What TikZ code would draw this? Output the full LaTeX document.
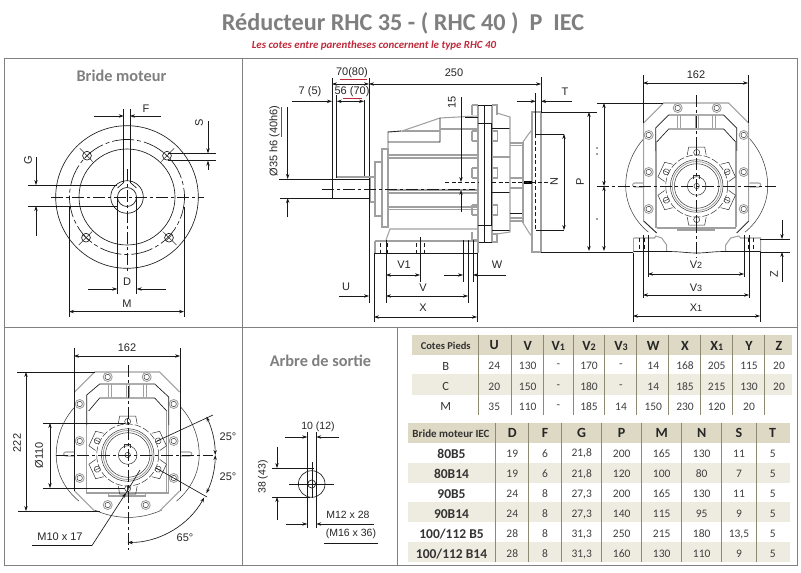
\documentclass[tikz,border=0pt]{standalone}
\usepackage{fontspec}
\setmainfont{Carlito}
\newfontfamily\lab{Liberation Sans}
\usetikzlibrary{arrows.meta,calc}
\definecolor{framec}{HTML}{808080}
\definecolor{titlec}{HTML}{7F7F7F}
\definecolor{redc}{HTML}{C0283A}
\definecolor{bandA}{HTML}{DDD9C4}
\definecolor{bandB}{HTML}{EEECE1}
\definecolor{sepc}{HTML}{8C8A70}
\definecolor{bodyc}{HTML}{A0A0A0}
\tikzset{
  frameline/.style={framec,line width=1pt},
  ln/.style={black!90,line width=.65pt},
  thn/.style={black!80,line width=.5pt},
  body/.style={bodyc,line width=1.05pt},
  dimn/.style={black!90,line width=.65pt,-{Stealth[length=5pt,width=3.4pt]}},
  dimb/.style={black!90,line width=.65pt,{Stealth[length=5pt,width=3.4pt]}-{Stealth[length=5pt,width=3.4pt]}},
  cl/.style={black!90,line width=.65pt,dash pattern=on 12pt off 3pt on 3pt off 3pt},
  dsh/.style={black!90,line width=.65pt,dash pattern=on 4pt off 2.5pt},
  lbl/.style={font=\lab\fontsize{11}{12}\selectfont,inner sep=0pt,text=black!85},
  heading/.style={font=\bfseries\fontsize{16.3}{18}\selectfont,text=titlec,inner sep=0pt},
  ceh/.style={font=\bfseries\fontsize{14}{15}\selectfont,text=black!85,inner sep=0pt},
  cen/.style={font=\fontsize{11.5}{13}\selectfont,text=black!75,inner sep=0pt},
  ceb/.style={font=\bfseries\fontsize{13.5}{15}\selectfont,text=black!80,inner sep=0pt},
  ces/.style={font=\bfseries\fontsize{10.5}{12}\selectfont,text=black!80,inner sep=0pt},
}
\newcommand{\smalld}[1]{{\fontsize{9}{10}\selectfont #1}}
\newcommand{\bolt}[2]{\draw[body,line width=.9pt] (#1,#2) circle[radius=4.5pt]; \draw[thn] (#1,#2) circle[radius=2.7pt];}
\newcommand{\lobe}[1]{\begin{scope}[rotate=#1]
  \draw[thn] (31,-9.5)--(39,-8)--(39,8)--(31,9.5);
  \draw[thn,fill=white] (33.6,0) circle[radius=3pt];
  \draw[thn] (30.6,0)--(36.6,0);
\end{scope}}
\newcommand{\core}{%
  \draw[thn,dash pattern=on 7pt off 2pt] (0,0) circle[radius=31pt];
  \draw[thn] (0,0) circle[radius=26.3pt];
  \draw[body,line width=.8pt] (0,0) circle[radius=24.5pt];
  \draw[thn] (0,0) circle[radius=22.3pt];
  \draw[thn] (0,0) circle[radius=9.3pt];
  \draw[thn] (0,0) circle[radius=2.7pt];
  \draw[thn] (-3,-7)--(-3,-10.5)--(3,-10.5)--(3,-7);
  \lobe{-90}\lobe{90}\lobe{-155}\lobe{-25}\lobe{155}\lobe{25}
  \draw[body] (-19,-71)--(-19,-58) (-16,-71)--(-16,-58) (-1,-71)--(-1,-58) (2,-71)--(2,-58) (16,-71)--(16,-58) (19,-71)--(19,-58);
  \draw[body] (-53,-3)--(-62,-3) arc[start angle=270,end angle=90,radius=2pt]--(-53,1);
  \draw[body] (53,-3)--(62,-3) arc[start angle=-90,end angle=90,radius=2pt]--(53,1);
}
\begin{document}
\begin{tikzpicture}[yscale=-1,x=1pt,y=1pt]
\useasboundingbox (0,0) rectangle (801,573);
\fill[white] (0,0) rectangle (801,573);

% titles
\node[inner sep=0pt,font=\bfseries\fontsize{24.2}{26}\selectfont,text=titlec] (title) at (403,23) {Réducteur RHC 35 - ( RHC 40 )\ \ P\ \ IEC};
\node[inner sep=0pt,font=\bfseries\itshape\fontsize{10.9}{12}\selectfont,text=redc] (sub) at (374,45.5) {Les cotes entre parentheses concernent le type RHC 40};
\node[heading] (h1) at (121.5,76) {Bride moteur};
\node[heading] (h2) at (320.5,361) {Arbre de sortie};

% frames
\draw[frameline] (4,58) rectangle (797,565);
\draw[frameline] (242,58)--(242,565) (4,327)--(797,327) (397,327)--(397,565);

% ---------- Bride moteur ----------
\begin{scope}[shift={(127,197)}]
  \draw[ln] (0,0) circle[radius=71.3pt];
  \draw[ln] (0,0) circle[radius=48pt];
  \draw[ln,dash pattern=on 22pt off 3pt on 4pt off 3pt] (0,0) circle[radius=57.5pt];
  \draw[ln] (0,0) circle[radius=16.3pt];
  \draw[ln] (0,0) circle[radius=9.5pt];
  \draw[ln] (-3.3,-88)--(-3.3,-14.5) (3.3,-88)--(3.3,-14.5);
  \draw[ln] (-3.3,-14.5)--(-9.5,-9) (3.3,-14.5)--(9.5,-9);
  \foreach \ax/\ay in {-40/-41.3, 40/-41.3, -41/40.7, 42/40.7}{
    \draw[ln] (\ax,\ay) circle[radius=4.4pt];
    \draw[thn] ($(0,0)!0.85!(\ax,\ay)$)--($(0,0)!1.18!(\ax,\ay)$);
    \draw[thn] ($(\ax,\ay)!4.4pt!90:(0,0)$)--($(\ax,\ay)!4.4pt!-90:(0,0)$);
  }
  \draw[cl] (-76,0)--(77,0);
  \draw[cl] (0,-28)--(0,77);
\end{scope}
\draw[dimn] (94,116)--(123.7,116); \draw[dimn] (160.7,116)--(130,116);
\node[lbl] (lF) at (146,109) {F};
\draw[ln] (168,153.3)--(216,153.3) (168,160.7)--(216,160.7);
\draw[dimn] (208,121)--(208,153.3); \draw[dimn] (208,170)--(208,160.7);
\node[lbl,rotate=90] (lS) at (199,123) {S};
\draw[ln] (28,185)--(117,185) (28,206)--(118,206);
\draw[dimn] (36,157)--(36,185); \draw[dimn] (36,236)--(36,206);
\node[lbl,rotate=90] (lG) at (28,160) {G};
\draw[ln] (117.3,197)--(117.3,294) (136.7,197)--(136.7,294);
\draw[dimn] (88,289)--(117.3,289); \draw[dimn] (166,289)--(136.7,289);
\node[lbl] (lD) at (127,282) {D};
\draw[ln] (69,207)--(69,317) (184,207)--(184,317);
\draw[dimb] (69,311.6)--(184,311.6);
\node[lbl] (lM) at (127,304) {M};

% ---------- Side view ----------
% body
\draw[body] (370,177) rectangle (375,202);
\draw[body] (375,162) rectangle (382,216);
\draw[body] (382,149) rectangle (388,227);
\draw[body] (388,227)--(388,132)--(402,131)--(440,118)--(477,116);
\draw[ln] (388,132)--(401,131) (388,142)--(440,142)--(440,118);
\draw[body] (402,131)--(440,131) (440,129)--(477,129);
\draw[body] (388,155)--(477,155) (388,158)--(477,158);
\draw[body] (388,190)--(477,190) (388,193)--(477,193);
\draw[body] (388,207)--(477,207) (388,209.5)--(477,209.5);
\draw[body] (386,240)--(390,229)--(477,229);
\draw[body] (478,105)--(478,242) (492,105)--(492,242);
\draw[ln] (465,117)--(478,117) (478,105)--(492,105) (478,123)--(492,123) (478,225)--(492,225) (478,242)--(492,242);
\draw[ln] (484.5,105)--(484.5,242) (491,123)--(491,225);
\foreach \by in {136,173,210}{
  \draw[body] (472,\by-5)--(472,\by+5) (472,\by-5)--(478,\by-5) (472,\by+5)--(478,\by+5);
  \draw[body] (492,\by-5)--(497.5,\by-5)--(497.5,\by+5)--(492,\by+5);
}
\draw[body] (472,105)--(478,105) (472,105)--(472,115) (492,105)--(497,105)--(497,115);
\draw[body] (472,232)--(472,240)--(478,240) (492,234)--(497,234)--(497,242)--(492,242);
\draw[ln] (492,128)--(510,128) (492,192)--(510,192) (492,230)--(510,230);
\draw[body] (497,113)--(510,117)--(510,232)--(497,234);
\draw[body] (492,157)--(510,157);
\draw[body] (510,143)--(523,143) (510,145.5)--(523,145.5) (510,178)--(523,178) (510,188)--(523,188) (510,218)--(523,218) (510,221)--(523,221);
\draw[ln] (510,213)--(523,213);
\draw[body] (523,142)--(523,223);
\draw[body] (523,142) .. controls (527,136) and (530,132) .. (532,130);
\draw[body] (523,223) .. controls (527,229) and (530,235) .. (532,236);
\draw[body] (532,112) rectangle (541,252);
\fill[black] (524,181) rectangle (532,183.5);
\draw[dsh] (535.7,134)--(535.7,230);
\draw[ln] (535.7,134)--(564,134) (535.7,230)--(564,230);
\draw[ln] (541,112)--(597,112) (541,252)--(633,252);
% foot
\draw[body] (375,241)--(478,241)--(478,253) (375,241)--(375,253);
\draw[ln] (374,253)--(478,253);
\draw[dsh] (380,243)--(380,253) (387,243)--(387,253) (416,243)--(416,253) (424,243)--(424,253) (463,243)--(463,253) (473,243)--(473,253);
% shaft
\draw[ln] (279,179)--(370,179) (280,198)--(370,198);
\draw[body] (336.7,177)--(364,177);
\draw[cl] (322,189)--(475,189);
\draw[ln] (332,78)--(332,198) (336.7,95)--(336.7,178) (364,100)--(364,178);
\draw[ln] (369,78)--(369,303);
\draw[body] (364,177)--(370,177);
\draw[ln] (386,240)--(386,303) (374,253)--(374,322) (477,253)--(477,322) (468,240)--(468,303) (463,240)--(463,282) (473,240)--(473,282) (420,237)--(420,282) (541,77)--(541,112) (535.7,93)--(535.7,134);
% dims
\draw[dimb] (332,84)--(369,84);
\node[lbl] (l70) at (352,72.5) {70(80)};
\draw[redc,line width=.7pt] (340,79.3)--(367,79.3);
\draw[dimb] (369,84)--(541,84);
\node[lbl] (l250) at (454,73) {250};
\draw[dimn] (292,101.3)--(332,101.3);
\node[lbl] (l7) at (310,92) {7 (5)};
\draw[dimb] (336.7,101.3)--(364,101.3);
\node[lbl] (l56) at (352,92) {56 (70)};
\draw[redc,line width=.7pt] (343,98.8)--(362,98.8);
\draw[dimn] (287.7,107)--(287.7,179); \draw[dimn] (287.7,217)--(287.7,198);
\node[lbl,rotate=90] (l35) at (274.5,141) {Ø35 h6 (40h6)};
\draw[redc,line width=.7pt] (281,107)--(281,137);
\draw[dimn] (461,97)--(461,182); \draw[dimn] (461,212)--(461,190);
\draw[dsh] (445,182)--(478,182) (492,182)--(555,182);
\node[lbl,rotate=90] (l15) at (452,102) {15};
\node[lbl,rotate=90,fill=white,inner sep=1pt] (lN) at (554,182) {N};
\draw[dimb] (564,134)--(564,230);
\draw[dimn] (517,101.3)--(535.7,101.3); \draw[dimn] (572,101.3)--(541,101.3) ;
\node[lbl,fill=white,inner sep=1pt] (lT) at (565,92) {T};
\draw[dimb] (386,275)--(420,275);
\node[lbl] (lV1) at (404,265) {V1};
\draw[dimb] (386,296)--(468,296);
\node[lbl] (lV) at (423,288) {V};
\draw[dimn] (339,296)--(369,296);
\node[lbl] (lU) at (346,287) {U};
\draw[dimb] (374,317)--(477,317);
\node[lbl] (lX) at (423,308) {X};
\draw[dimn] (444,275)--(463,275); \draw[dimn] (506,275)--(473,275);
\node[lbl] (lW) at (497,265) {W};

% ---------- Front view ----------
\begin{scope}[shift={(696.7,186)}]
  \draw[thn] (-71,0) arc[start angle=180,end angle=222,radius=71pt];
  \draw[thn] (-71,0) arc[start angle=180,end angle=133,x radius=71pt,y radius=63pt];
  \draw[thn] (71,0) arc[start angle=0,end angle=-42,radius=71pt];
  \draw[thn] (71,0) arc[start angle=0,end angle=47,x radius=71pt,y radius=63pt];
  \draw[body] (-40,47)--(-53,35)--(-53,-63)--(-33,-83)--(32,-83)--(52,-63)--(52,35)--(40,47);
  \draw[ln] (-53,35)--(-40,47) (52,35)--(40,47);
  \draw[ln] (-41,-35)--(-41,-58)--(-28,-71)--(27,-71)--(40,-58)--(40,-35);
  \draw[body] (-41,-35)--(-41,42) (40,-35)--(40,41);
  \draw[body] (-40,42)--(-40,-44) (39,-44)--(39,42)--(-40,42);
  \draw[ln] (-40,-44)--(-28,-57)--(27,-57)--(39,-44);
  \draw[body] (-19,42)--(-19,44)--(18,44)--(18,42);
  \foreach \a/\b in {-48/-51,-48/-14,-48/23,47/-51,47/-14,47/23,-19/-78,20/-78}{\bolt{\a}{\b}}
  \core
  \draw[body] (-63,52)--(-42,52)--(-41,50)--(-35,52)--(-30,59)--(-30,65.5);
  \draw[body] (-63,52)--(-63,66);
  \draw[body] (29,65.5)--(29,59)--(34,52)--(42,50)--(44,52)--(64,52)--(64,66);
  \draw[ln] (-63,65.5)--(-30,65.5) .. controls (-15,65.5) and (-10,67) .. (0,67) .. controls (10,67) and (15,65.5) .. (29,65.5)--(64,65.5);
  \draw[dsh] (-57,52)--(-57,65) (-52,52)--(-52,65) (-48,52)--(-48,65) (48,52)--(48,65) (52,52)--(52,65) (57,52)--(57,65);
\end{scope}
\draw[ln] (643,75)--(643,123) (748,75)--(748,123);
\draw[dimb] (643,83)--(748,83);
\node[lbl] (l162a) at (696,75) {162};
\draw[ln] (597,103)--(663,103);
\draw[cl] (597,186)--(776,186);
\draw[cl] (696.7,95)--(696.7,258);
\draw[dimb] (604,103)--(604,186); \draw[dimb] (604,186)--(604,251);
\draw[dimb] (589,112)--(589,251);
\node[lbl,rotate=90] (lP) at (580,182) {P};
\draw[body] (597,147)--(597,149) (597,153)--(597,155) (597,218)--(597,220);
\draw[ln] (643,235)--(643,298) (749,235)--(749,298) (648,235)--(648,277) (744,235)--(744,277) (633,253)--(633,322) (760,253)--(760,322) (760,239)--(790,239) (760,252)--(790,252);
\draw[dimb] (648,274)--(744,274);
\node[lbl] (lV2) at (696,265) {V\smalld{2}};
\draw[dimb] (643,295)--(749,295);
\node[lbl] (lV3) at (696,288) {V\smalld{3}};
\draw[dimb] (633,316)--(760,316);
\node[lbl] (lX1) at (696,308) {X\smalld{1}};
\draw[dimn] (782,220)--(782,239); \draw[dimn] (782,282)--(782,252);
\node[lbl,rotate=90] (lZ) at (774,274) {Z};

% ---------- Bottom-left view ----------
\begin{scope}[shift={(127.7,455)}]
  \draw[thn] (-71.5,0) arc[start angle=180,end angle=222,radius=71.5pt];
  \draw[thn] (-71.5,0) arc[start angle=180,end angle=133,x radius=71.5pt,y radius=63pt];
  \draw[thn] (71.5,0) arc[start angle=0,end angle=-42,radius=71.5pt];
  \draw[thn] (71.5,0) arc[start angle=0,end angle=47,x radius=71.5pt,y radius=63pt];
  \draw[thn] (-33,55) arc[start angle=118,end angle=62,x radius=71.5pt,y radius=63pt];
  \draw[body] (-33,56)--(-53,36) (-53,-63)--(-33,-83)--(32,-83)--(52,-63) (52,36)--(32,56)--cycle;
  \draw[body] (-41,-30)--(-41,38)--(41,38)--(41,-30);
  \draw[ln] (-41,-30)--(-41,-60)--(-28,-71)--(27,-71)--(41,-58)--(41,-30);
  \draw[ln] (-39,-44)--(-28,-57)--(27,-57)--(39,-44);
  \draw[body] (39,-44)--(39,38);
  \draw[body] (-19,38)--(-19,41)--(18,41)--(18,38);
  \foreach \a/\b in {-48/-51,-48/-14,-48/23,46/-51,46/-14,46/23,-20/-78,19/-78,-20/50,18/50}{\bolt{\a}{\b}}
  \core
\end{scope}
\draw[ln] (74,348)--(74,491) (180,348)--(180,491);
\draw[dimb] (74,356)--(180,356);
\node[lbl] (l162b) at (127,348) {162};
\draw[ln] (17,372)--(95,372) (18,511)--(100,511);
\draw[dimb] (26,372)--(26,511);
\node[lbl,rotate=90] (l222) at (17,443) {222};
\draw[ln] (43,423)--(125,423) (43,488)--(125,488);
\draw[dimb] (50,423)--(50,488);
\node[lbl,rotate=90] (l110) at (39,455) {Ø110};
\draw[cl] (56,455)--(213,455);
\draw[cl] (128,365)--(128,550);
\draw[ln] (157,441)--(213,415) (156,468)--(207,497);
\draw[dimb,shift={(127.7,455)}] (87.5,0) arc[start angle=0,end angle=-26,radius=87.5pt];
\draw[dimb,shift={(127.7,455)}] (87.5,0) arc[start angle=0,end angle=26,radius=87.5pt];
\draw[dimb,shift={(127.7,455)}] (0,87.5) arc[start angle=90,end angle=29,radius=87.5pt];
\node[lbl] (l25a) at (228,437) {25°};
\node[lbl] (l25b) at (228,477) {25°};
\node[lbl] (l65) at (185,538) {65°};
\node[lbl] (lM10) at (60,537) {M10 x 17};
\draw[ln,-{Stealth[length=5pt,width=3.4pt]}] (32,545.5)--(92,545.5)--(126,493);
\draw[ln] (126,493)--(140,470);

% ---------- Arbre de sortie ----------
\draw[ln] (311.7,484) circle[radius=13.3pt];
\draw[ln] (311.7,484) circle[radius=4pt];
\draw[ln] (289,484)--(334,484);
\draw[ln] (312,462)--(312,498);
\draw[ln] (307.3,432)--(307.3,528) (316.3,432)--(316.3,528);
\draw[dimn] (285,437)--(307.3,437); \draw[dimn] (339,437)--(316.3,437);
\node[lbl,font=\lab\fontsize{10.5}{12}\selectfont] (l10) at (318,427) {10 (12)};
\draw[dimn] (286,524)--(307.3,524); \draw[dimn] (374,524)--(316.3,524);
\node[lbl,font=\lab\fontsize{10.5}{12}\selectfont] (lM12) at (348,515) {M12 x 28};
\node[lbl,font=\lab\fontsize{10.5}{12}\selectfont] (lM16) at (351,534) {(M16 x 36)};
\draw[ln] (324,543)--(378,543);
\draw[ln] (272,468)--(314,468) (272,497)--(310,497);
\draw[dimn] (277,447)--(277,468); \draw[dimn] (277,520)--(277,497);
\node[lbl,rotate=90,font=\lab\fontsize{10.5}{12}\selectfont] (l38) at (263,477) {38 (43)};

% ---------- Table 1 ----------
\fill[bandA] (412,335) rectangle (792,355);
\fill[bandB] (412,374.3) rectangle (792,394.5);
\foreach \x in {478.3,511.7,543.3,573.3,604.3,636.7,668.3,700,732.3,764.3}{
  \draw[sepc,line width=.8pt] (\x,335)--(\x,415);
}
\node[ces] (c00) at (445.7,346) {Cotes Pieds};
\foreach \t [count=\i] in {U,V,V\fontsize{10}{11}\selectfont 1,V\fontsize{10}{11}\selectfont 2,V\fontsize{10}{11}\selectfont 3,W,X,X\fontsize{10}{11}\selectfont 1,Y,Z}{
  \pgfmathsetmacro{\cx}{405+{0,89.3,122.7,153.3,184,216,248.3,280,311.7,344,374}[\i]}
  \node[ceh] (c0\i) at (\cx,345.5) {\t};
}
\newcommand{\trow}[3]{%
  \node[font=\fontsize{12.5}{14}\selectfont,text=black!80,inner sep=0pt] (r#1n) at (445.7,#2) {#1};
  \foreach \t [count=\i] in {#3}{
    \pgfmathsetmacro{\cx}{405+{0,89.3,122.7,153.3,184,216,248.3,280,311.7,344,374}[\i]}
    \node[cen] (r#1c\i) at (\cx,#2) {\t};
  }}
\trow{B}{366}{24,130,-,170,-,14,168,205,115,20}
\trow{C}{386.5}{20,150,-,180,-,14,185,215,130,20}
\trow{M}{406.5}{35,110,-,185,14,150,230,120,20}

% ---------- Table 2 ----------
\fill[bandA] (408,422.7) rectangle (790,442.7);
\fill[bandB] (408,462.7) rectangle (790,482.7);
\fill[bandB] (408,502.3) rectangle (790,522.3);
\fill[bandB] (408,541.7) rectangle (790,562.3);
\foreach \x in {495.7,528.3,561.7,601.7,641,681.7,721.7,756.7}{
  \draw[sepc,line width=.8pt] (\x,423)--(\x,562);
}
\node[font=\bfseries\fontsize{11}{12}\selectfont,text=black!80,inner sep=0pt] (d00) at (451,434) {Bride moteur IEC};
\foreach \t [count=\i] in {D,F,G,P,M,N,S,T}{
  \pgfmathsetmacro{\cx}{405+{0,107.3,140,176.7,216.7,256.7,296.7,334,367.7}[\i]}
  \node[ceh] (d0\i) at (\cx,433) {\t};
}
\newcommand{\urow}[4]{%
  \node[ceb] (u#1n) at (451.5,#2) {#3};
  \foreach \t [count=\i] in {#4}{
    \pgfmathsetmacro{\cx}{405+{0,107.3,140,176.7,216.7,256.7,296.7,334,367.7}[\i]}
    \node[cen] (u#1c\i) at (\cx,#2) {\t};
  }}
\urow{a}{453.5}{80B5}{19,6,{21,8},200,165,130,11,5}
\urow{b}{474}{80B14}{19,6,{21,8},120,100,80,7,5}
\urow{c}{494}{90B5}{24,8,{27,3},200,165,130,11,5}
\urow{d}{514}{90B14}{24,8,{27,3},140,115,95,9,5}
\urow{e}{534}{100/112 B5}{28,8,{31,3},250,215,180,{13,5},5}
\urow{f}{554}{100/112 B14}{28,8,{31,3},160,130,110,9,5}
\end{tikzpicture}
\end{document}
